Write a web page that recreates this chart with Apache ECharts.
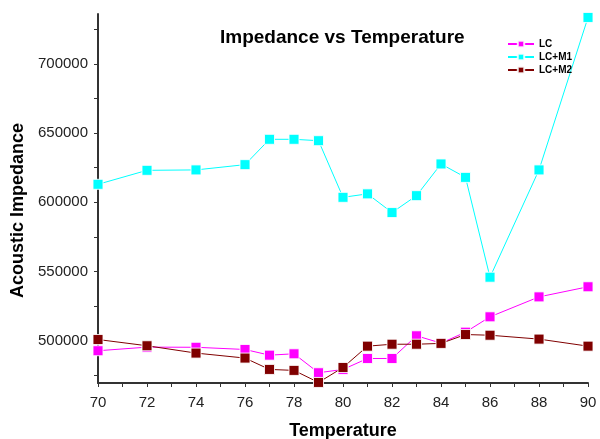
<!DOCTYPE html>
<html>
<head>
<meta charset="utf-8">
<script src="https://cdn.jsdelivr.net/npm/echarts@6/dist/echarts.min.js"></script>
<style>
  html, body { margin: 0; padding: 0; background: #fff; }
  #main { width: 600px; height: 439px; }
</style>
</head>
<body>
<div id="main"></div>
<script>
var temps = [70, 72, 74, 76, 77, 78, 79, 80, 81, 82, 83, 84, 85, 86, 88, 90];
var lcData  = [492800, 495400, 495300, 493700, 489600, 490600, 476900, 479300, 487200, 487200, 503600, 498300, 506200, 517300, 531700, 539000];
var lcm1Data = [613000, 623100, 623400, 627200, 645500, 645500, 644500, 603600, 606100, 592600, 604800, 627700, 618000, 545900, 623400, 733500];
var lcm2Data = [500900, 496400, 491100, 487500, 479300, 478600, 469900, 480700, 496100, 497500, 497500, 498100, 504500, 504000, 501200, 496100];
var xLabels = [70, 72, 74, 76, 78, 80, 82, 84, 86, 88, 90];
var xTicks = [70, 71, 72, 73, 74, 75, 76, 77, 78, 79, 80, 81, 82, 83, 84, 85, 86, 87, 88, 89, 90];
var yLabels = [500000, 550000, 600000, 650000, 700000];
var yTicks = [475000, 500000, 525000, 550000, 575000, 600000, 625000, 650000, 675000, 700000, 725000];

function pairs(ys) {
  var out = [];
  for (var i = 0; i < temps.length; i++) {
    out.push([temps[i], ys[i]]);
  }
  return out;
}

var myChart = echarts.init(document.getElementById('main'));

function mkSeries(name, color, data, z) {
  return {
    name: name,
    type: 'line',
    data: pairs(data),
    symbol: 'rect',
    symbolSize: 10,
    z: z,
    lineStyle: { color: color, width: 1 },
    itemStyle: { color: color, borderColor: 'rgba(255,255,255,0.85)', borderWidth: 1 }
  };
}

var option = {
  animation: false,
  textStyle: { fontFamily: 'Liberation Sans, Arial, sans-serif' },
  title: {
    text: 'Impedance vs Temperature',
    left: 215,
    top: 23,
    textStyle: { fontSize: 19, fontWeight: 'bold', color: '#000', fontFamily: 'Liberation Sans' }
  },
  legend: {
    orient: 'vertical',
    left: 502,
    top: 34,
    itemWidth: 26,
    itemHeight: 8,
    itemGap: 3,
    textStyle: { fontSize: 10, fontWeight: 'bold', color: '#000' },
    data: ['LC', 'LC+M1', 'LC+M2']
  },
  grid: { left: 98, right: 12, top: 14, bottom: 56, outerBoundsMode: 'none', containLabel: false },
  xAxis: {
    type: 'value',
    min: 70,
    max: 90,
    name: 'Temperature',
    nameLocation: 'middle',
    nameGap: 39,
    nameTextStyle: { fontSize: 18, fontWeight: 'bold', color: '#000' },
    axisLine: { lineStyle: { color: '#333', width: 2 } },
    axisTick: { customValues: xTicks, length: 4, inside: false, lineStyle: { color: '#333' } },
    axisLabel: { customValues: xLabels, fontSize: 15, color: '#222', margin: 12 },
    splitLine: { show: false }
  },
  yAxis: {
    type: 'value',
    min: 469500,
    max: 736000,
    name: 'Acoustic Impedance',
    nameLocation: 'middle',
    nameGap: 71,
    nameTextStyle: { fontSize: 18, fontWeight: 'bold', color: '#000', padding: [0, 24, 0, 0] },
    axisLine: { show: true, lineStyle: { color: '#333', width: 2 } },
    axisTick: { show: true, customValues: yTicks, length: 4, lineStyle: { color: '#333' } },
    axisLabel: {
      customValues: yLabels, fontSize: 15, color: '#222', margin: 10,
      formatter: function (v) { return String(v); }
    },
    splitLine: { show: false }
  },
  series: [
    mkSeries('LC', '#ff00ff', lcData, 2),
    mkSeries('LC+M1', '#00ffff', lcm1Data, 1),
    mkSeries('LC+M2', '#800000', lcm2Data, 3)
  ]
};
myChart.setOption(option);
</script>
</body>
</html>
